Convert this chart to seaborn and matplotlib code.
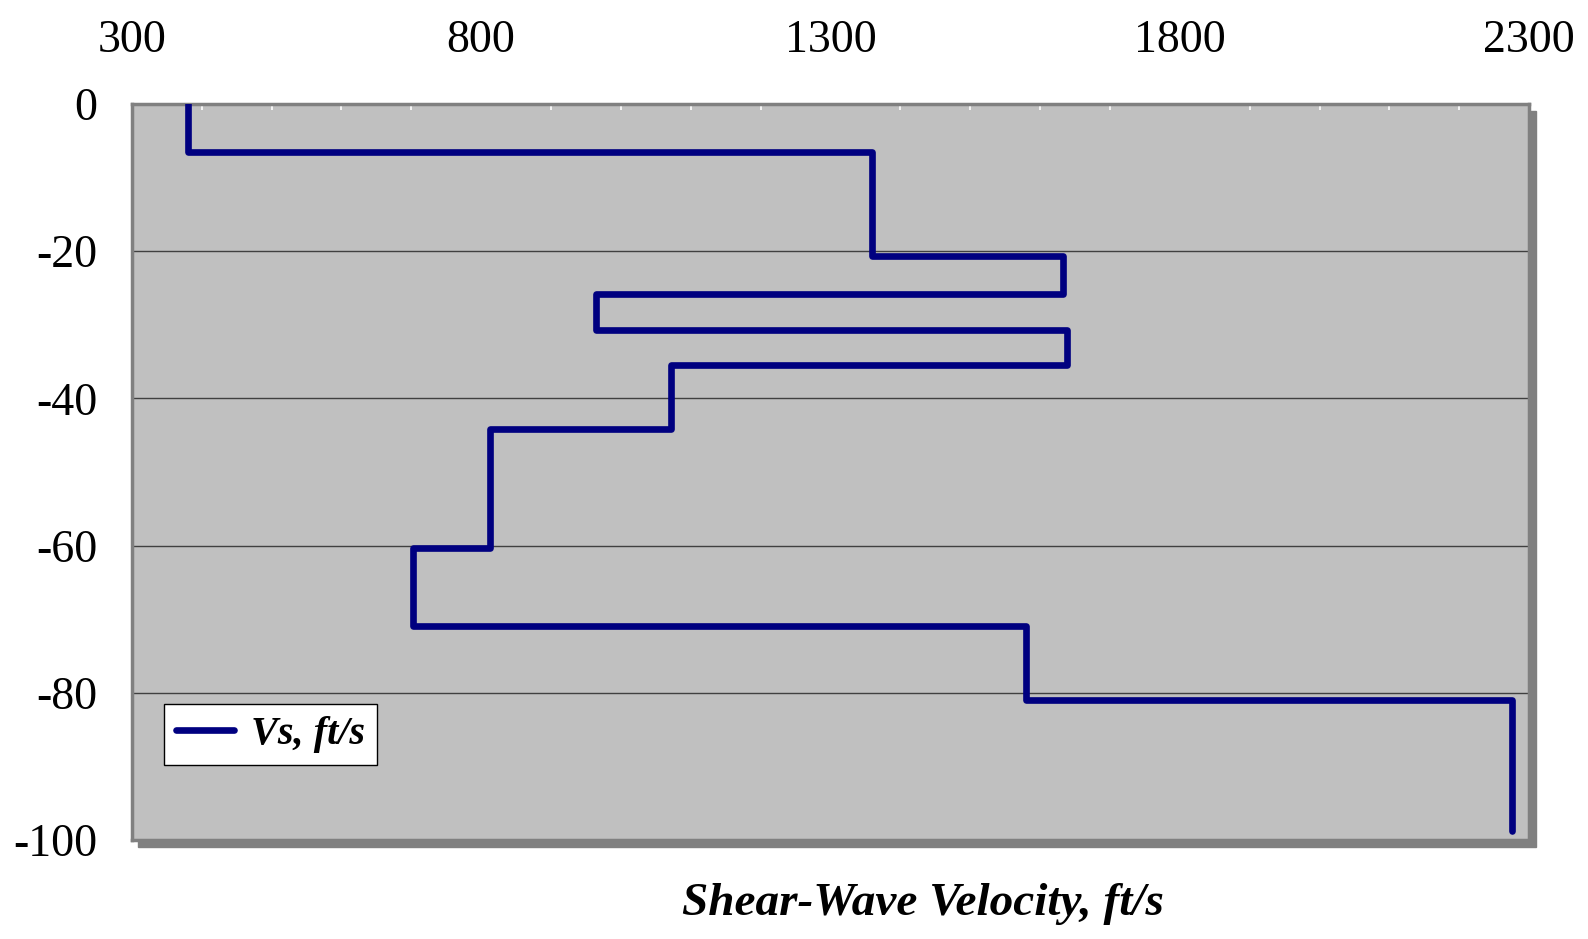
import numpy as np
import pandas as pd
import seaborn as sns
import matplotlib
matplotlib.use('Agg')
from matplotlib import pyplot as plt
from matplotlib.patches import Rectangle

# layer boundaries (ft, positive down) and shear-wave velocity of each layer (ft/s)
depth_bounds = [0, 6.5, 20.7, 25.8, 30.7, 35.5, 44.1, 60.3, 70.9, 81.0, 98.8]
vs_layers = [381, 1359, 1633, 965, 1639, 1072, 813, 703, 1580, 2275]
x_ticks = [300, 800, 1300, 1800, 2300]
y_ticks = [0, -20, -40, -60, -80, -100]

# step profile: each layer gives a top and a bottom point
xs, ys = [], []
for i, v in enumerate(vs_layers):
    xs += [v, v]
    ys += [-depth_bounds[i], -depth_bounds[i + 1]]
df = pd.DataFrame({'Vs': xs, 'Depth': ys, 'order': range(len(xs))})

sns.set_style('white')
plt.rcParams['font.family'] = ['Liberation Serif', 'DejaVu Serif']
plt.rcParams['axes.unicode_minus'] = False
plt.rcParams['text.color'] = 'black'
plt.rcParams['xtick.labelcolor'] = 'black'
plt.rcParams['ytick.labelcolor'] = 'black'

fig = plt.figure(figsize=(15.88, 9.39), dpi=100)
ax = fig.add_axes([0.083, 0.1054, 0.880, 0.7838])

# drop shadow behind the plot area
pos = ax.get_position()
shadow = Rectangle((pos.x0 + 0.004, pos.y0 - 0.0075), pos.width, pos.height,
                   transform=fig.transFigure, color='#808080', zorder=-5)
fig.patches.append(shadow)

ax.set_facecolor('#C0C0C0')
sns.lineplot(data=df, x='Vs', y='Depth', sort=False, estimator=None, color='#000080',
             lw=4.8, solid_capstyle='round', solid_joinstyle='round',
             label='Vs, ft/s', ax=ax, zorder=3)

ax.set_xlim(300, 2300)
ax.set_ylim(-100, 0)
ax.xaxis.tick_top()
ax.set_xticks(x_ticks)
ax.set_xticks(np.arange(300, 2301, 100), minor=True)
ax.set_yticks(y_ticks)
ax.tick_params(axis='x', which='major', labelsize=33, pad=30, length=0, top=True)
ax.tick_params(axis='x', which='minor', direction='in', length=4, width=1.2,
               color='white', top=True, bottom=False)
ax.tick_params(axis='y', labelsize=33, pad=25, length=0)

for y in [-20, -40, -60, -80]:
    ax.axhline(y, color='#404040', lw=1.0, zorder=1)

for s in ax.spines.values():
    s.set_color('#808080')
    s.set_linewidth(2.5)

ax.set_xlabel('')
ax.set_ylabel('')
ax.text(0.566, -0.087, 'Shear-Wave Velocity, ft/s', transform=ax.transAxes,
        ha='center', va='center', fontsize=34, fontweight='bold', fontstyle='italic')

leg = ax.legend(loc='lower left', bbox_to_anchor=(0.023, 0.102), borderaxespad=0,
                fancybox=False, framealpha=1, edgecolor='black',
                handlelength=1.45, handletextpad=0.4, borderpad=0.3,
                prop={'size': 29, 'weight': 'bold', 'style': 'italic'})
leg.get_frame().set_linewidth(1.0)

fig.savefig('out.png', dpi=100)
